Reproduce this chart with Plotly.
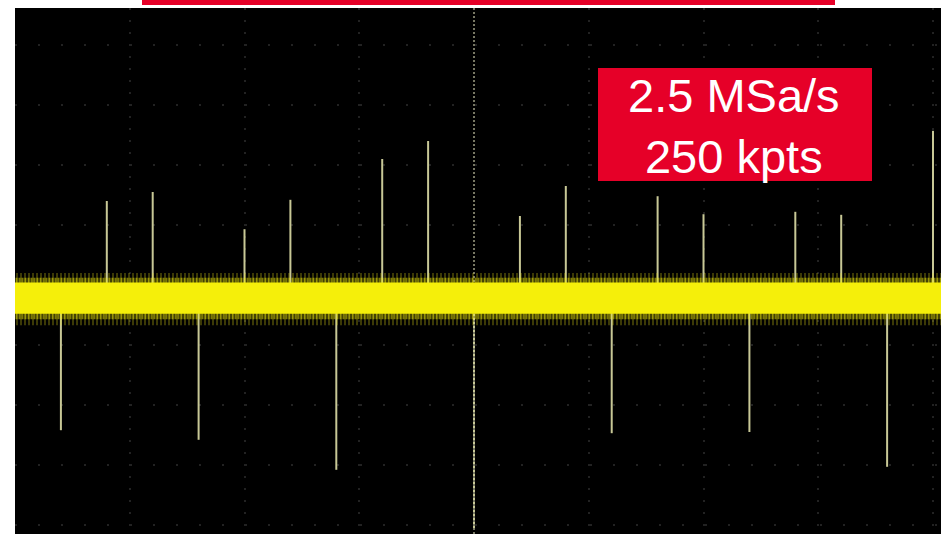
import plotly.graph_objects as go

# Acquisition settings shown in the badge
badge_lines = ["2.5 MSa/s", "250 kpts"]

# Time base: 12.5 ms per division, 100 ms record
time_per_div_ms = 12.5
trigger_ms = 50
screen_span_ms = 100.87          # visible width (slightly past the last division)
volt_span_div = (-4.15, 4.617)   # visible vertical extent, in divisions

# Glitch events: time (ms) and peak level (divisions from screen centre)
glitch_times_ms = [5, 10, 15, 20, 25, 30, 35, 40, 45, 50,
                   55, 60, 65, 70, 75, 80, 85, 90, 95, 100]
glitch_peaks_div = [-2.42, 1.40, 1.55, -2.58, 0.93, 1.42, -3.08, 2.10, 2.40, -4.05,
                    1.15, 1.65, -2.47, 1.48, 1.18, -2.45, 1.22, 1.17, -3.03, 2.57]

# Signal baseline and noise envelope (divisions)
baseline_div = -0.22
noise_core_div = (-0.48, 0.04)
noise_inner_fringe_div = (-0.57, 0.12)
noise_outer_fringe_div = (-0.67, 0.20)

TRACE_YELLOW = "#f5ef0a"
SPIKE_COLOR = "rgb(200,200,150)"
BADGE_RED = "#e60028"
GRID_COLOR = "rgb(34,34,34)"

fig = go.Figure()

x0, x1 = 0, screen_span_ms

# Glitch spikes from the baseline to each peak
sx, sy = [], []
for t, p in zip(glitch_times_ms, glitch_peaks_div):
    sx += [t, t, None]
    sy += [baseline_div, p, None]
fig.add_trace(go.Scatter(
    x=sx, y=sy, mode="lines",
    line=dict(color=SPIKE_COLOR, width=2),
    hoverinfo="skip", showlegend=False))

# Trigger-position marker (dotted centre line)
fig.add_trace(go.Scatter(
    x=[trigger_ms, trigger_ms], y=list(volt_span_div), mode="lines",
    line=dict(color="rgb(120,120,100)", width=2, dash="2px,2px"),
    hoverinfo="skip", showlegend=False))


def band(lo, hi, **kw):
    return go.Scatter(
        x=[x0, x1, x1, x0, x0], y=[lo, lo, hi, hi, lo],
        mode="lines", line=dict(width=0), fill="toself",
        hoverinfo="skip", showlegend=False, **kw)


# Noise envelope: sparse outer hairs, denser inner hairs, solid core
fig.add_trace(band(*noise_outer_fringe_div,
                   fillcolor="rgba(0,0,0,0)",
                   fillpattern=dict(shape="|", size=4, solidity=0.3,
                                    fgcolor="rgba(235,228,20,0.85)",
                                    bgcolor="rgba(0,0,0,0)")))
fig.add_trace(band(*noise_inner_fringe_div,
                   fillcolor="rgba(0,0,0,0)",
                   fillpattern=dict(shape="|", size=3, solidity=0.7,
                                    fgcolor=TRACE_YELLOW, bgcolor="rgba(0,0,0,0)")))
fig.add_trace(band(*noise_core_div, fillcolor=TRACE_YELLOW))

# Red header bar above the screen and the red settings badge
plot_h = 526
plot_w = 926
fig.add_shape(type="rect", xref="paper", yref="paper",
              x0=(142 - 15) / plot_w, x1=(835 - 15) / plot_w,
              y0=1 + 3 / plot_h, y1=1 + 8 / plot_h,
              fillcolor=BADGE_RED, line=dict(width=0), layer="above")
fig.add_shape(type="rect", xref="paper", yref="paper",
              x0=(598 - 15) / plot_w, x1=(872 - 15) / plot_w,
              y0=1 - (181 - 8) / plot_h, y1=1 - (68 - 8) / plot_h,
              fillcolor=BADGE_RED, line=dict(width=0), layer="above")
fig.add_annotation(
    xref="paper", yref="paper",
    x=(734 - 15) / plot_w, y=1 - (126 - 8) / plot_h,
    xanchor="center", yanchor="middle",
    text="<br>".join(badge_lines), showarrow=False,
    font=dict(family="Liberation Sans, Arial, sans-serif", size=47, color="white"))

fig.update_layout(
    width=941, height=534,
    margin=dict(l=15, r=0, t=8, b=0),
    paper_bgcolor="white", plot_bgcolor="black",
    showlegend=False,
    xaxis=dict(range=[x0, x1], tick0=0, dtick=time_per_div_ms,
               showgrid=True, gridcolor=GRID_COLOR, gridwidth=1.5,
               griddash="2px,10px", zeroline=False, showticklabels=False,
               ticks="", showline=False, fixedrange=True),
    yaxis=dict(range=list(volt_span_div), tick0=0, dtick=1,
               showgrid=True, gridcolor=GRID_COLOR, gridwidth=1.5,
               griddash="2px,21px", zeroline=False, showticklabels=False,
               ticks="", showline=False, fixedrange=True),
)

fig.write_html("out.html")
